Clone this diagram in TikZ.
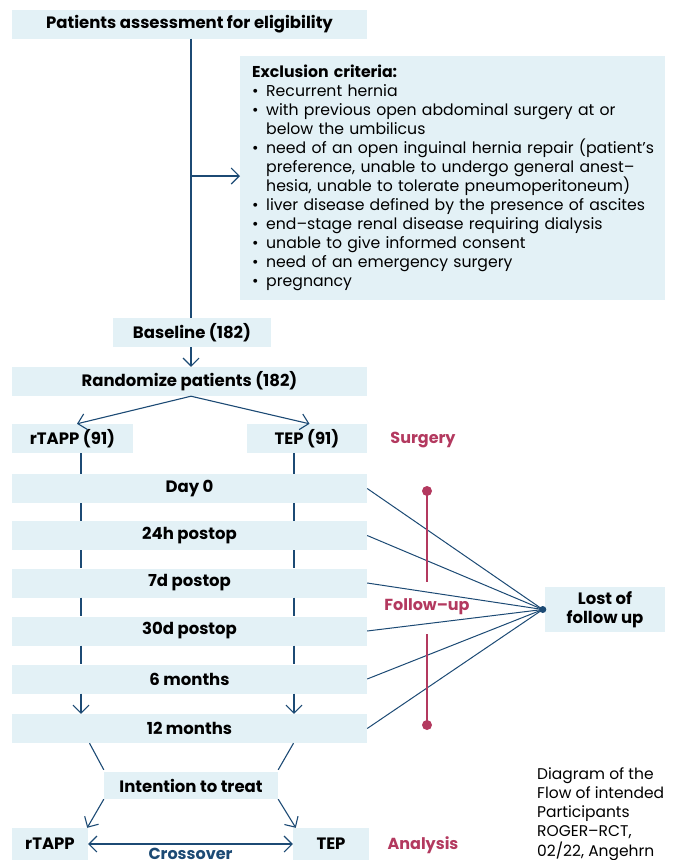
\documentclass[tikz,border=0pt]{standalone}
\usepackage{fontspec}
\setmainfont{Poppins}
\usetikzlibrary{arrows.meta}
\definecolor{boxblue}{HTML}{E3F1F6}
\definecolor{navy}{HTML}{1C4A74}
\definecolor{berry}{HTML}{B3395F}
\newcommand{\itm}[1]{\makebox[14pt][l]{\textbullet}\mbox{#1}}
\newcommand{\cnt}[1]{\hspace*{14pt}\mbox{#1}}

\begin{document}
\begin{tikzpicture}[x=1pt,y=-1pt,
  box/.style={fill=boxblue, inner sep=0pt, minimum height=29pt, align=center,
    font=\fontsize{16.5}{19}\selectfont\bfseries},
  wide/.style={box, minimum width=355pt},
  flow/.style={navy, line width=1.1pt},
  tip/.style={-{Straight Barb[length=8pt,width=16pt]}},
  phase/.style={berry, font=\fontsize{16}{19}\selectfont\bfseries},
  bar/.style={berry, line width=2.4pt},
  lost/.style={navy, line width=1pt}]
\useasboundingbox (0,0) rectangle (676,860);

\node[wide] (elig) at (189.5,24) {Patients assessment for eligibility};
\node[box, anchor=north west, minimum width=425pt, minimum height=244pt, text width=401pt,
  inner xsep=12pt, align=left, font=\fontsize{15.7}{19}\selectfont] (excl) at (240,56)
  {\textbf{Exclusion criteria:}\\
   \itm{Recurrent hernia}\\
   \itm{with previous open abdominal surgery at or}\\
   \cnt{below the umbilicus}\\
   \itm{need of an open inguinal hernia repair (patient’s}\\
   \cnt{preference, unable to undergo general anest–}\\
   \cnt{hesia, unable to tolerate pneumoperitoneum)}\\
   \itm{liver disease defined by the presence of ascites}\\
   \itm{end–stage renal disease requiring dialysis}\\
   \itm{unable to give informed consent}\\
   \itm{need of an emergency surgery}\\
   \itm{pregnancy}};
\node[box, minimum width=158pt] (base) at (192,332.5) {Baseline (182)};
\node[wide] (rand) at (189.5,381.5) {Randomize patients (182)};
\node[box, minimum width=121pt] (rtapp) at (72.5,438.5) {rTAPP (91)};
\node[box, minimum width=120pt] (tep) at (307,438.5) {TEP (91)};
\node[phase] (surg) at (423,440) {Surgery};

\node[wide] (d0) at (189.5,488.5) {Day 0};
\node[wide] (h24) at (189.5,535.5) {24h postop};
\node[wide] (d7) at (189.5,583) {7d postop};
\node[wide] (d30) at (189.5,631) {30d postop};
\node[wide] (m6) at (189.5,679) {6 months};
\node[wide] (m12) at (189.5,728.5) {12 months};
\node[box, minimum width=120pt, minimum height=45pt] (lost) at (605,609.5) {Lost of\\follow up};
\node[phase] (fu) at (427,607) {Follow–up};

\node[box, minimum width=174pt, minimum height=27pt] (itt) at (191,785.5) {Intention to treat};
\node[box, minimum width=76pt, minimum height=32pt] (rfin) at (50,844) {rTAPP};
\node[box, minimum width=76pt, minimum height=32pt] (tfin) at (331,844) {TEP};
\node[phase] (anal) at (423,845) {Analysis};
\node[anchor=north west, align=left, inner sep=0pt, font=\fontsize{15.5}{19.3}\selectfont] (note) at (537,767)
  {Diagram of the\\Flow of intended\\Participants\\ROGER–RCT,\\02/22, Angehrn};

\coordinate (split) at (191,176);
\draw[flow] (elig.south -| split) -- (base.north -| split);
\draw[flow, tip] (split) -- (excl.west |- split);
\draw[flow, tip] (base.south -| split) -- (rand.north -| split);
\draw[flow, tip] (rand.south -| split) -- ([xshift=4.5pt]rtapp.north);
\draw[flow, tip] (rand.south -| split) -- ([xshift=2.5pt]tep.north);

\coordinate (colL) at (81,0);
\coordinate (colR) at (294,0);
\draw[flow] (colL |- rtapp.south) -- (colL |- d0.north);
\draw[flow] (colL |- d0.south) -- (colL |- h24.north);
\draw[flow] (colL |- h24.south) -- (colL |- d7.north);
\draw[flow] (colL |- d7.south) -- (colL |- d30.north);
\draw[flow] (colL |- d30.south) -- (colL |- m6.north);
\draw[flow, tip] (colL |- m6.south) -- (colL |- m12.north);
\draw[flow] (colR |- tep.south) -- (colR |- d0.north);
\draw[flow] (colR |- d0.south) -- (colR |- h24.north);
\draw[flow] (colR |- h24.south) -- (colR |- d7.north);
\draw[flow] (colR |- d7.south) -- (colR |- d30.north);
\draw[flow] (colR |- d30.south) -- (colR |- m6.north);
\draw[flow, tip] (colR |- m6.south) -- (colR |- m12.north);

\coordinate (lostdot) at ([xshift=-2pt]lost.west);
\draw[lost] (d0.east) -- (lostdot);
\draw[lost] (h24.east) -- (lostdot);
\draw[lost] (d7.east) -- (lostdot);
\draw[lost] (d30.east) -- (lostdot);
\draw[lost] (m6.east) -- (lostdot);
\draw[lost] (m12.east) -- (lostdot);
\fill[navy] (lostdot) circle (3.5pt);

\coordinate (fuA) at (427,491);
\coordinate (fuB) at (427,582);
\coordinate (fuC) at (427,634);
\coordinate (fuD) at (427,725);
\draw[bar] (fuA) -- (fuB);
\draw[bar] (fuC) -- (fuD);
\fill[berry] (fuA) circle (5pt);
\fill[berry] (fuD) circle (5pt);

\draw[flow] ([xshift=-100pt]m12.south) -- ([yshift=2pt]itt.north west);
\draw[flow] ([xshift=104pt]m12.south) -- ([yshift=2pt]itt.north east);
\draw[flow, tip] (itt.south west) -- ([xshift=-1pt]rfin.north east);
\draw[flow, tip] (itt.south east) -- ([xshift=3pt]tfin.north west);
\draw[flow, {Straight Barb[length=8pt,width=16pt]}-{Straight Barb[length=8pt,width=16pt]}] (rfin.east) -- (tfin.west)
  node[midway, below=4pt, inner sep=0pt, navy, font=\fontsize{16}{19}\selectfont\bfseries] (cross) {Crossover};
\end{tikzpicture}
\end{document}
